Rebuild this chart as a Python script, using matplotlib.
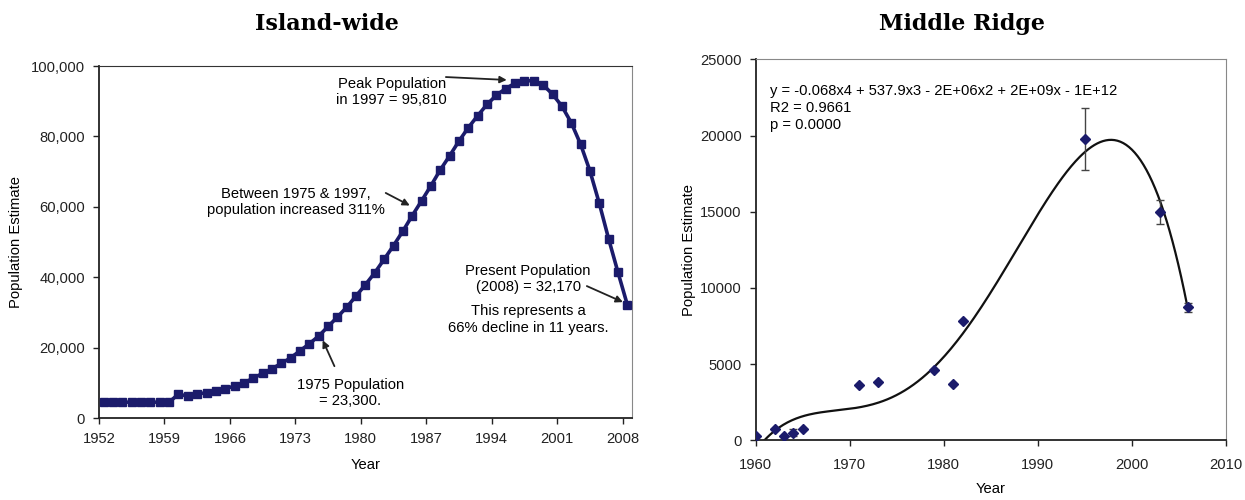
import numpy as np
import matplotlib
matplotlib.use("Agg")
import matplotlib.pyplot as plt
from matplotlib.ticker import FuncFormatter

plt.rcParams['font.family'] = ['Liberation Sans', 'DejaVu Sans']
plt.rcParams['font.size'] = 10.6

# Island-wide population estimates, 1952-2008
years = np.arange(1952, 2009)
island_pop = [4500, 4500, 4500, 4500, 4500, 4500, 4500, 4500,
              6800, 6200, 6800, 7200, 7700, 8300, 9100, 10000, 11300, 12700,
              14000, 15500, 17100, 19100, 21100, 23300, 26000, 28700, 31500,
              34700, 37900, 41300, 45100, 49000, 53100, 57500, 61700, 66000,
              70500, 74500, 78700, 82500, 85900, 89100, 91700, 93600, 95100,
              95810, 95800, 94600, 92000, 88600, 83900, 77800, 70200, 61000,
              50900, 41400, 32170]
island_ticks = [1952, 1959, 1966, 1973, 1980, 1987, 1994, 2001, 2008]

# Middle Ridge survey estimates
mr_years = [1960, 1962, 1963, 1964, 1965, 1971, 1973, 1979, 1981, 1982, 1995, 2003, 2006]
mr_pop = [280, 720, 280, 500, 720, 3600, 3830, 4600, 3700, 7850, 19770, 15000, 8730]
mr_err = [0, 0, 0, 250, 0, 0, 0, 0, 0, 0, 2050, 800, 300]

navy = '#1b1b6b'
W, H = 1245, 500
fig = plt.figure(figsize=(W / 100, H / 100), dpi=100)


def px_axes(x0, y0, x1, y1):
    return fig.add_axes([x0 / W, 1 - y1 / H, (x1 - x0) / W, (y1 - y0) / H])


# ---- left panel: Island-wide ----
ax1 = px_axes(99, 66, 632, 418)
idx = years - 1952 + 0.5
ax1.plot(idx, island_pop, color=navy, lw=2.6, marker='s', ms=5.8,
         mfc=navy, mec=navy, zorder=3)
ax1.set_xlim(0, len(years))
ax1.set_ylim(0, 100000)
ax1.set_xticks([y - 1952 for y in island_ticks])
ax1.set_xticklabels([str(y) for y in island_ticks])
ax1.set_yticks(np.arange(0, 100001, 20000))
ax1.yaxis.set_major_formatter(FuncFormatter(lambda v, p: f"{int(v):,}"))
ax1.set_xlabel("Year", labelpad=9)
ax1.set_ylabel("Population Estimate", labelpad=6)
for s in ['left', 'bottom']:
    ax1.spines[s].set_color('#222222')
    ax1.spines[s].set_linewidth(1.3)
ax1.spines['top'].set_color('#333333')
ax1.spines['right'].set_color('#888888')
ax1.tick_params(direction='out', length=4, width=1, colors='#222222', pad=6)

akw = dict(arrowstyle='-|>', color='#222222', lw=1.3, mutation_scale=10)


def ix(year):
    return year - 1952 + 0.5


ax1.annotate("", xy=(ix(1995.4), 96000), xytext=(ix(1988.3), 96900),
             arrowprops=akw)
ax1.text(ix(1982.8), 92500, "Peak Population\nin 1997 = 95,810",
         ha='center', va='center', linespacing=1.2)
ax1.annotate("", xy=(ix(1985.0), 60000), xytext=(ix(1981.9), 64300),
             arrowprops=akw)
ax1.text(ix(1972.6), 61300, "Between 1975 & 1997,\npopulation increased 311%",
         ha='center', va='center', linespacing=1.2)
ax1.annotate("", xy=(ix(1975.3), 22800), xytext=(ix(1976.8), 14000),
             arrowprops=akw)
ax1.text(ix(1978.4), 7000, "1975 Population\n= 23,300.",
         ha='center', va='center', linespacing=1.2)
ax1.annotate("", xy=(ix(2007.8), 32600), xytext=(ix(2003.4), 37800),
             arrowprops=akw)
ax1.text(ix(1997.4), 39500, "Present Population\n(2008) = 32,170",
         ha='center', va='center', linespacing=1.2)
ax1.text(ix(1997.4), 28000, "This represents a\n66% decline in 11 years.",
         ha='center', va='center', linespacing=1.2)

fig.text(327 / W, 1 - 24 / H, "Island-wide", ha='center', va='center',
         fontsize=16, fontweight='bold', family='DejaVu Serif')

# ---- right panel: Middle Ridge ----
ax2 = px_axes(755.7, 59.3, 1226, 440.3)
coef = np.polyfit(np.array(mr_years) - 1980, mr_pop, 4)
xs = np.linspace(min(mr_years), max(mr_years), 300)
ax2.plot(xs, np.polyval(coef, xs - 1980), color='#111111', lw=1.6, zorder=2)
ax2.errorbar(mr_years, mr_pop, yerr=mr_err, fmt='D', ms=5, color=navy,
             ecolor='#444444', elinewidth=1, capsize=3, capthick=1, zorder=3)
ax2.set_xlim(1960, 2010)
ax2.set_ylim(0, 25000)
ax2.set_xticks(np.arange(1960, 2011, 10))
ax2.set_yticks(np.arange(0, 25001, 5000))
ax2.set_xlabel("Year", labelpad=7)
ax2.set_ylabel("Population Estimate", labelpad=3)
for s in ['left', 'bottom']:
    ax2.spines[s].set_color('#222222')
    ax2.spines[s].set_linewidth(1.3)
ax2.spines['top'].set_color('#888888')
ax2.spines['right'].set_color('#888888')
ax2.tick_params(direction='out', length=4, width=1, colors='#222222', pad=6)
ax2.tick_params(axis='x', pad=9)
ax2.text(0.03, 0.935, "y = -0.068x4 + 537.9x3 - 2E+06x2 + 2E+09x - 1E+12\n"
         "R2 = 0.9661\np = 0.0000", transform=ax2.transAxes,
         ha='left', va='top', linespacing=1.25)

fig.text(962 / W, 1 - 24 / H, "Middle Ridge", ha='center', va='center',
         fontsize=16, fontweight='bold', family='DejaVu Serif')

fig.savefig("out.png", dpi=100)
